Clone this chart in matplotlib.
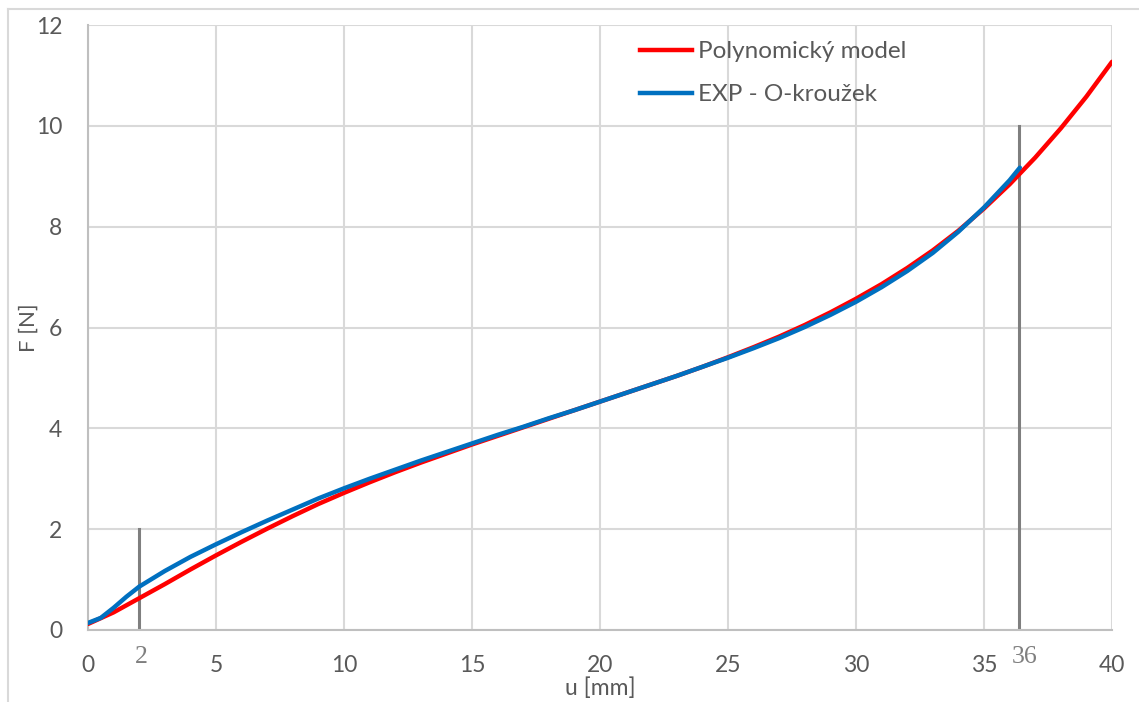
import matplotlib
matplotlib.use("Agg")
import matplotlib.pyplot as plt
from matplotlib.lines import Line2D

# Polynomial model, F [N] against u [mm]
u_model = list(range(0, 41))
f_model = [0.12, 0.35, 0.63, 0.91, 1.20, 1.48, 1.75, 2.01, 2.26, 2.50,
           2.72, 2.93, 3.13, 3.32, 3.50, 3.68, 3.85, 4.02, 4.19, 4.36,
           4.53, 4.70, 4.87, 5.04, 5.22, 5.41, 5.61, 5.82, 6.05, 6.30,
           6.57, 6.86, 7.18, 7.53, 7.92, 8.36, 8.84, 9.37, 9.95, 10.58,
           11.27]

# Measured O-ring curve
u_exp = [0, 0.5, 1, 1.5, 2, 3, 4, 5, 6, 7, 8, 9, 10, 11, 12, 13, 14, 15,
         16, 17, 18, 19, 20, 21, 22, 23, 24, 25, 26, 27, 28, 29, 30, 31,
         32, 33, 34, 35, 36, 36.4]
f_exp = [0.14, 0.24, 0.44, 0.66, 0.86, 1.17, 1.45, 1.70, 1.94, 2.17,
         2.39, 2.61, 2.81, 3.00, 3.18, 3.36, 3.53, 3.70, 3.87, 4.03,
         4.20, 4.36, 4.53, 4.70, 4.87, 5.04, 5.22, 5.40, 5.59, 5.79,
         6.01, 6.25, 6.51, 6.80, 7.12, 7.48, 7.90, 8.38, 8.92, 9.17]

# Range markers: position, height, label and label position
marker_u = [2, 36.35]
marker_top = [2, 10]
marker_labels = ["2", "36"]
marker_label_u = [2.07, 36.58]

x_ticks = [0, 5, 10, 15, 20, 25, 30, 35, 40]
y_ticks = [0, 2, 4, 6, 8, 10, 12]

text_color = "#595959"
grid_color = "#D9D9D9"

W, H = 1139, 702
fig = plt.figure(figsize=(W / 100, H / 100), dpi=100)
ax = fig.add_axes([88 / W, 1 - 630 / H, 1024 / W, 605 / H])

ax.set_xlim(0, 40)
ax.set_ylim(0, 12)
ax.set_xticks(x_ticks)
ax.set_yticks(y_ticks)
ax.grid(True, color=grid_color, linewidth=1.5)
ax.set_axisbelow(True)
for side in ("top", "right"):
    ax.spines[side].set_visible(False)
for side in ("left", "bottom"):
    ax.spines[side].set_color("#BFBFBF")
    ax.spines[side].set_linewidth(1.5)
ax.tick_params(length=0, labelsize=16.5, labelcolor=text_color)
for lab in ax.get_xticklabels() + ax.get_yticklabels():
    lab.set_family("Lato")
ax.tick_params(axis="x", pad=18)
ax.tick_params(axis="y", pad=18.5)

ax.set_xlabel("u [mm]", fontsize=16.5, color=text_color, family="Lato")
ax.xaxis.set_label_coords(0.5, -(688 - 630) / 605)
ax.xaxis.label.set_va("center")
ax.set_ylabel("F [N]", fontsize=16, color=text_color, family="Lato")
ax.yaxis.set_label_coords(-(88 - 29) / 1024, 0.5)
ax.yaxis.label.set_va("center")

for xm, top in zip(marker_u, marker_top):
    ax.plot([xm, xm], [0, top], color="#7F7F7F", linewidth=2.2, zorder=2)

ax.plot(u_model, f_model, color="#FF0000", linewidth=3.2, zorder=3,
        solid_capstyle="round")
ax.plot(u_exp, f_exp, color="#0070C0", linewidth=3.2, zorder=4,
        solid_capstyle="round")

for xm, lab in zip(marker_label_u, marker_labels):
    ax.text(xm, -(657 - 630) / 50.4, lab, ha="center", va="center",
            fontsize=18.5, family="Liberation Serif", color="#7F7F7F")

handles = [Line2D([], [], color="#FF0000", linewidth=3.2),
           Line2D([], [], color="#0070C0", linewidth=3.2)]
ax.legend(handles, ["Polynomický model", "EXP - O-kroužek"],
          loc="upper left",
          bbox_to_anchor=((640 - 88) / 1024, 1 - (41 - 25) / 605),
          frameon=False, prop={"family": "Lato", "size": 17.5},
          labelcolor=text_color, handlelength=2.15, handletextpad=0.25,
          labelspacing=0.92, borderpad=0, borderaxespad=0)

# Outer chart border
fig.add_artist(Line2D([8 / W, 8 / W], [0, 1 - 9 / H], color="#D9D9D9",
                      linewidth=1.5, transform=fig.transFigure))
fig.add_artist(Line2D([8 / W, 1], [1 - 9 / H, 1 - 9 / H], color="#D9D9D9",
                      linewidth=1.5, transform=fig.transFigure))

fig.savefig("out.png", dpi=100)
